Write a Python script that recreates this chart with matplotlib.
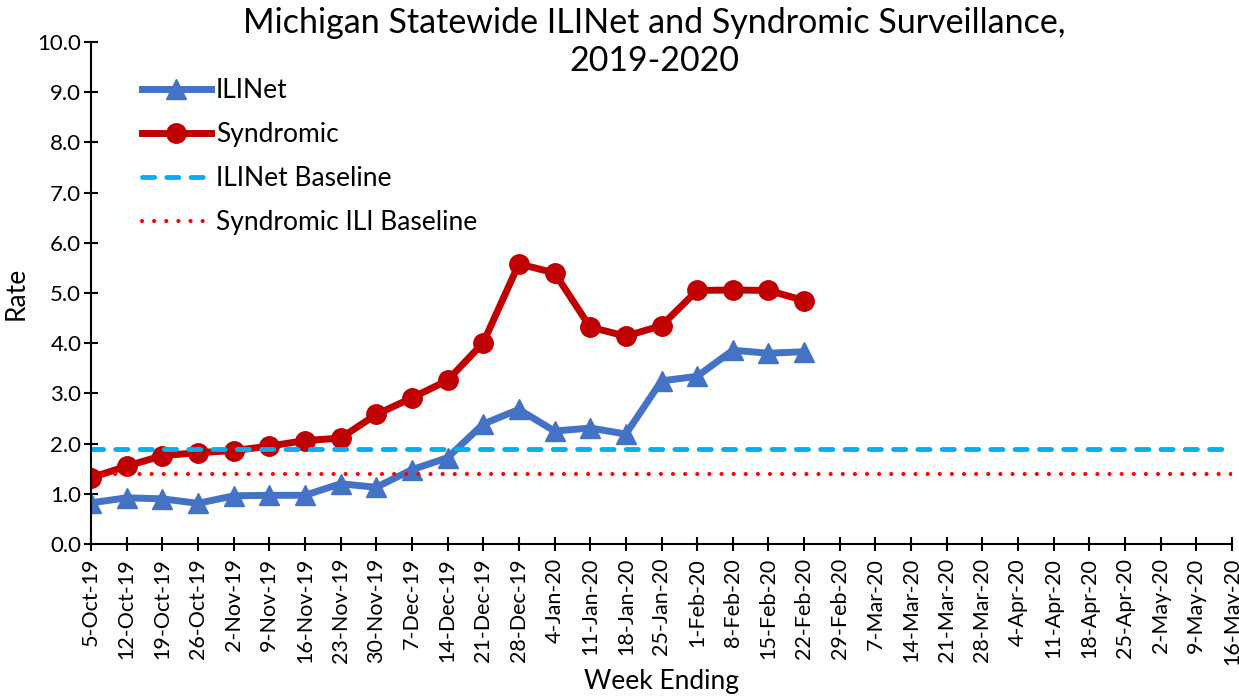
#----------------------------------------------------------------------------------------------------------------------
# Imports

import numpy as np
import matplotlib
matplotlib.use("Agg")
import matplotlib.pyplot as plt

#----------------------------------------------------------------------------------------------------------------------
# Data

weeks = ["5-Oct-19", "12-Oct-19", "19-Oct-19", "26-Oct-19", "2-Nov-19", "9-Nov-19", "16-Nov-19",
         "23-Nov-19", "30-Nov-19", "7-Dec-19", "14-Dec-19", "21-Dec-19", "28-Dec-19", "4-Jan-20",
         "11-Jan-20", "18-Jan-20", "25-Jan-20", "1-Feb-20", "8-Feb-20", "15-Feb-20", "22-Feb-20",
         "29-Feb-20", "7-Mar-20", "14-Mar-20", "21-Mar-20", "28-Mar-20", "4-Apr-20", "11-Apr-20",
         "18-Apr-20", "25-Apr-20", "2-May-20", "9-May-20", "16-May-20"]

ilinet = [0.82, 0.92, 0.90, 0.81, 0.96, 0.97, 0.97, 1.20, 1.13, 1.48, 1.72, 2.39, 2.68, 2.25,
          2.31, 2.19, 3.25, 3.34, 3.86, 3.80, 3.83]
syndromic = [1.32, 1.55, 1.76, 1.82, 1.86, 1.95, 2.06, 2.11, 2.58, 2.91, 3.26, 4.01, 5.58, 5.40,
             4.32, 4.14, 4.35, 5.05, 5.06, 5.05, 4.85]
ilinet_baseline = 1.9
syndromic_baseline = 1.4

#----------------------------------------------------------------------------------------------------------------------
# Plot

plt.rcParams['font.family'] = ['Lato', 'DejaVu Sans']

n = len(weeks)
x = np.arange(n)

fig = plt.figure(figsize=(12.39, 6.96), dpi=100)
ax = fig.add_axes([91 / 1239, 152 / 696, 1141 / 1239, 502 / 696])

ax.plot(x[:len(ilinet)], ilinet, color="#4472C4", lw=5, marker="^", ms=15, label="ILINet")
ax.plot(x[:len(syndromic)], syndromic, color="#C00000", lw=5, marker="o", ms=14, label="Syndromic")
ax.plot(x, [ilinet_baseline] * n, color="#00B0F0", lw=3.5, dashes=(2.5, 2.5),
        dash_capstyle="round", label="ILINet Baseline")
ax.plot(x, [syndromic_baseline] * n, color="#FF0000", lw=3, dashes=(0.01, 2.9),
        dash_capstyle="round", label="Syndromic ILI Baseline")

ax.set_xlim(0, n - 1)
ax.set_ylim(0, 10)
ax.set_yticks(np.arange(0, 10.1, 1.0))
ax.set_yticklabels([f"{v:.1f}" for v in np.arange(0, 10.1, 1.0)])
ax.set_xticks(x)
ax.set_xticklabels(weeks, rotation=90)

for s in ["top", "right"]:
    ax.spines[s].set_visible(False)
for s in ["left", "bottom"]:
    ax.spines[s].set_linewidth(1.5)
ax.tick_params(axis="both", direction="inout", length=10, width=1.5, labelsize=16, pad=2)
ax.tick_params(axis="x", labelsize=15.5, pad=5)

ax.set_ylabel("Rate", fontsize=19, labelpad=6)
ax.set_xlabel("Week Ending", fontsize=19, labelpad=3)

fig.text(0.528, 0.99, "Michigan Statewide ILINet and Syndromic Surveillance,\n2019-2020",
         ha="center", va="top", fontsize=24.5, linespacing=1.22)

ax.legend(loc="upper left", bbox_to_anchor=(0.024, 0.975), frameon=False, fontsize=19,
          handlelength=2.6, handletextpad=0.2, labelspacing=0.72, numpoints=1)

plt.savefig("out.png", dpi=100)
